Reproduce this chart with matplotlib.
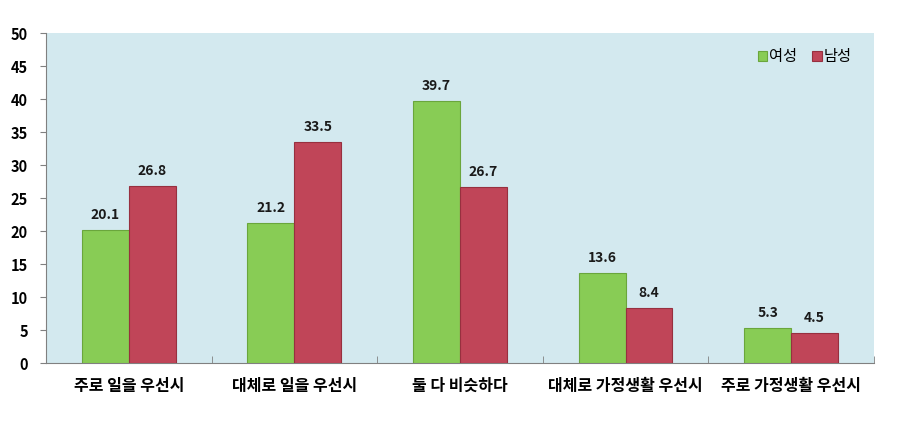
import numpy as np
import matplotlib.pyplot as plt
from matplotlib.ticker import FixedLocator

plt.rcParams['font.family'] = ['Noto Sans CJK KR', 'DejaVu Sans']

categories = ['주로 일을 우선시', '대체로 일을 우선시', '둘 다 비슷하다',
              '대체로 가정생활 우선시', '주로 가정생활 우선시']
female = [20.1, 21.2, 39.7, 13.6, 5.3]
male = [26.8, 33.5, 26.7, 8.4, 4.5]
series_names = ['여성', '남성']

fig = plt.figure(figsize=(9.01, 4.22), dpi=100)
ax = fig.add_axes([0.0510, 0.1398, 0.9190, 0.782])
ax.set_facecolor('#d3e9ef')

x = np.arange(len(categories))
w = 0.283
b1 = ax.bar(x - w / 2, female, w, color='#88cc55', edgecolor='#6aa63c',
            linewidth=0.8, label=series_names[0], zorder=3)
b2 = ax.bar(x + w / 2, male, w, color='#c04558', edgecolor='#97303f',
            linewidth=0.8, label=series_names[1], zorder=3)

for bars, vals in ((b1, female), (b2, male)):
    for r, v in zip(bars, vals):
        ax.text(r.get_x() + r.get_width() / 2, v + 1.2, f'{v:.1f}',
                ha='center', va='bottom', fontsize=10, fontweight='bold',
                color='#1a1a1a')

ax.set_xlim(-0.5, len(categories) - 0.5)
ax.set_ylim(0, 50)
ax.set_yticks(np.arange(0, 51, 5))
ax.tick_params(axis='y', direction='out', length=4, color='#808080',
               labelsize=10.5, pad=9)
for lab in ax.get_yticklabels():
    lab.set_fontweight('bold')

ax.set_xticks(x)
ax.set_xticklabels(categories, fontsize=11.5, fontweight='bold')
ax.tick_params(axis='x', length=0, pad=11)
ax.xaxis.set_minor_locator(FixedLocator(np.arange(-0.5, len(categories), 1)))
ax.tick_params(axis='x', which='minor', direction='in', length=5,
               color='#808080')

for s in ('top', 'right'):
    ax.spines[s].set_visible(False)
for s in ('left', 'bottom'):
    ax.spines[s].set_color('#808080')

ax.legend(loc='upper right', bbox_to_anchor=(0.99, 0.995), frameon=False,
          ncol=2, fontsize=11, handlelength=0.6, handleheight=0.6,
          handletextpad=0.15, columnspacing=1.0)

fig.savefig('out.png', dpi=100)
